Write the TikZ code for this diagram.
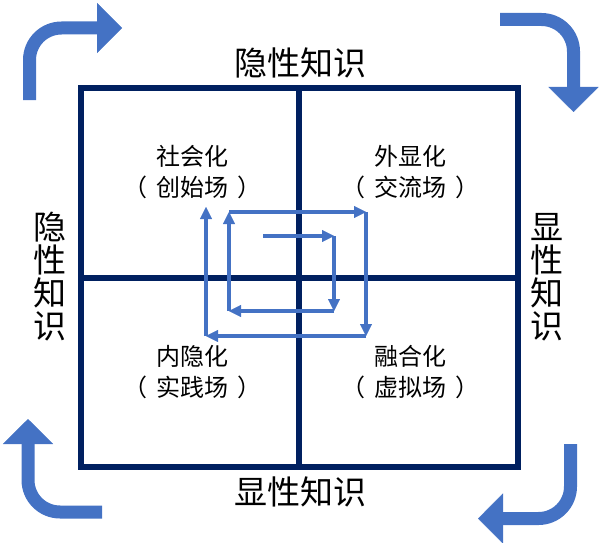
\documentclass[tikz,border=0pt]{standalone}
\usepackage{fontspec}
\newfontfamily\cjk{Noto Sans CJK SC}
\usetikzlibrary{arrows.meta}
\definecolor{gridcolor}{RGB}{0,32,96}
\definecolor{flowcolor}{RGB}{68,114,196}
\newcommand{\fieldname}[1]{（\hspace{9pt}#1\hspace{9pt}）}

\begin{document}
\begin{tikzpicture}[x=1pt, y=-1pt,
  axislabel/.style={font=\cjk\fontsize{33}{33}\selectfont, inner sep=0pt, align=center},
  modelabel/.style={font=\cjk\fontsize{24}{31}\selectfont, inner sep=0pt, align=center},
  gridline/.style={gridcolor, line width=5.5pt},
  spiral/.style={flowcolor, line width=4pt, -{Triangle[length=12pt, width=12pt, line width=0.4pt]}},
  bentarrow/.style={flowcolor, line width=13pt, rounded corners=32pt, -{Triangle[length=25pt, width=50pt, line width=0.4pt]}},
]
\useasboundingbox (0,0) rectangle (600,543);

% ---------- grid ----------
\coordinate (nw) at (81,88);
\coordinate (se) at (518,467);
\coordinate (mid) at (299,278);
\draw[gridline] (nw) rectangle (se);
\draw[gridline] (nw -| mid) -- (se -| mid);
\draw[gridline] (nw |- mid) -- (se |- mid);

% ---------- axis labels ----------
\node[axislabel] (tacittop) at (300,63) {隐性知识};
\node[axislabel] (explicitbottom) at (300,492) {显性知识};
\node[axislabel] (tacitleft) at (50,277) {隐\\性\\知\\识};
\node[axislabel] (explicitright) at (547,277) {显\\性\\知\\识};

% ---------- the four modes ----------
\node[modelabel] (socialization) at (192,172) {社会化\\\fieldname{创始场}};
\node[modelabel] (externalization) at (410,172) {外显化\\\fieldname{交流场}};
\node[modelabel] (internalization) at (192,372) {内隐化\\\fieldname{实践场}};
\node[modelabel] (combination) at (410,372) {融合化\\\fieldname{虚拟场}};

% ---------- spiral ----------
\coordinate (s0) at (263,236);
\coordinate (s1) at (334,236);
\coordinate (s2) at (334,311);
\coordinate (s3) at (229,311);
\coordinate (s4) at (229,212);
\coordinate (s5) at (366,212);
\coordinate (s6) at (366,336);
\coordinate (s7) at (206,336);
\coordinate (s8) at (206,207);
\foreach \a/\b in {s0/s1, s1/s2, s2/s3, s3/s4, s4/s5, s5/s6, s6/s7, s7/s8}
  \draw[spiral] (\a) -- (\b);

% ---------- corner arrows ----------
\coordinate (tla) at (29.5,100);
\coordinate (tlb) at (29.5,28);
\coordinate (tlc) at (122,28);
\draw[bentarrow] (tla) -- (tlb) -- (tlc);

\coordinate (tra) at (500,19.5);
\coordinate (trb) at (573.5,19.5);
\coordinate (trc) at (573.5,112);
\draw[bentarrow] (tra) -- (trb) -- (trc);

\coordinate (bra) at (570.5,444);
\coordinate (brb) at (570.5,518.5);
\coordinate (brc) at (478,518.5);
\draw[bentarrow] (bra) -- (brb) -- (brc);

\coordinate (bla) at (102,512);
\coordinate (blb) at (28,512);
\coordinate (blc) at (28,419);
\draw[bentarrow] (bla) -- (blb) -- (blc);

\end{tikzpicture}
\end{document}
